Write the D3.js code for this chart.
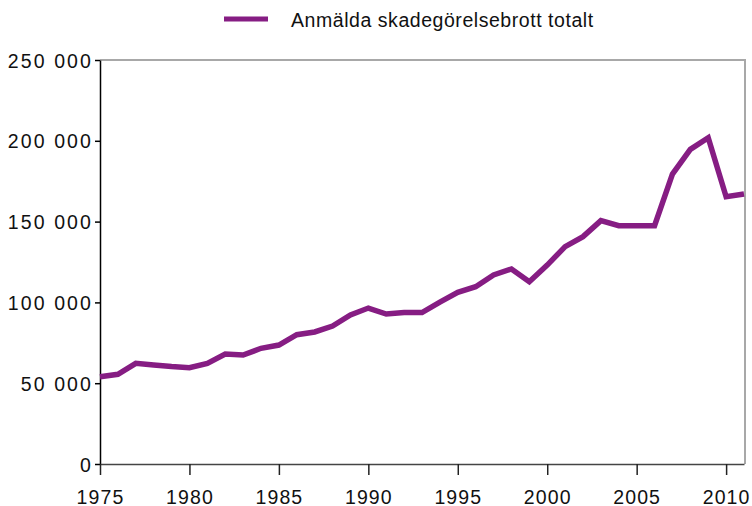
<!DOCTYPE html>
<html>
<head>
<meta charset="utf-8">
<script src="https://cdn.jsdelivr.net/npm/d3@7"></script>
<style>
body { margin: 0; background: #fff; }
svg { display: block; font-family: "Liberation Sans", Arial, sans-serif; }
</style>
</head>
<body>
<script>
// data
var years = [1975,1976,1977,1978,1979,1980,1981,1982,1983,1984,1985,1986,1987,1988,1989,1990,
             1991,1992,1993,1994,1995,1996,1997,1998,1999,2000,2001,2002,2003,2004,2005,2006,
             2007,2008,2009,2010,2011];
var totals = [54000,55500,62300,61300,60300,59600,62300,68000,67400,71600,73600,80000,81700,85400,92200,96500,
              92800,93700,93700,100200,106200,109700,117000,120700,112800,123100,134500,140700,150600,147500,147500,147500,
              179400,194700,201900,165400,167100];
var yTicks = [0,50000,100000,150000,200000,250000];
var xTicks = [1975,1980,1985,1990,1995,2000,2005,2010];
var seriesName = "Anmälda skadegörelsebrott totalt";

var w = 752, h = 506;
var mLeft = 100, mRight = 744, mTop = 60, mBottom = 464; // plot edges in px
var purple = "#861d83";

var svg = d3.select("body").append("svg")
    .attr("width", w)
    .attr("height", h);

var x = d3.scaleLinear().domain([1975, 2011]).range([mLeft, mRight]);
var y = d3.scaleLinear().domain([0, 250000]).range([mBottom, mTop]);

// frame top and right, grey
svg.append("path")
    .attr("d", "M" + mLeft + "," + mTop + "H" + (mRight + 1) + "V" + mBottom)
    .attr("fill", "none")
    .attr("stroke", "#a8a8a8")
    .attr("stroke-width", 2);

// y axis
var fmt = function(d) { return d3.format(",")(d).replace(/,/g, " "); };
var yAxis = svg.append("g")
    .attr("transform", "translate(" + mLeft + ",0)")
    .call(d3.axisLeft(y).tickValues(yTicks).tickFormat(fmt).tickSize(5).tickSizeOuter(0).tickPadding(2));
yAxis.select(".domain").attr("stroke", "#000").attr("stroke-width", 1.5);
yAxis.selectAll(".tick line").attr("stroke", "#000").attr("stroke-width", 1.5);
yAxis.selectAll("text")
    .attr("font-size", "19.5px")
    .attr("letter-spacing", "2.1px")
    .attr("dy", "0.36em")
    .attr("fill", "#111")
    .attr("font-family", "Liberation Sans, Arial, sans-serif");

// x axis
var xAxis = svg.append("g")
    .attr("transform", "translate(0," + mBottom + ")")
    .call(d3.axisBottom(x).tickValues(xTicks).tickFormat(d3.format("d")).tickSize(11).tickSizeOuter(0).tickPadding(15));
xAxis.select(".domain").attr("stroke", "#444").attr("stroke-width", 1.5);
xAxis.selectAll(".tick line").attr("stroke", "#222").attr("stroke-width", 1.5);
xAxis.selectAll("text")
    .attr("font-size", "19.5px")
    .attr("letter-spacing", "1.1px")
    .attr("fill", "#111")
    .attr("font-family", "Liberation Sans, Arial, sans-serif");

// the line
var line = d3.line()
    .x(function(d, i) { return x(years[i]); })
    .y(function(d) { return y(d); });

svg.append("path")
    .datum(totals)
    .attr("d", line)
    .attr("fill", "none")
    .attr("stroke", purple)
    .attr("stroke-width", 5.5)
    .attr("stroke-linejoin", "miter");

// legend
svg.append("line")
    .attr("x1", 224).attr("x2", 268)
    .attr("y1", 19).attr("y2", 19)
    .attr("stroke", purple)
    .attr("stroke-width", 5);

svg.append("text")
    .text(seriesName)
    .attr("x", 291)
    .attr("y", 27)
    .attr("font-size", "19.5px")
    .attr("letter-spacing", "0.55px")
    .attr("fill", "#111");
</script>
</body>
</html>
